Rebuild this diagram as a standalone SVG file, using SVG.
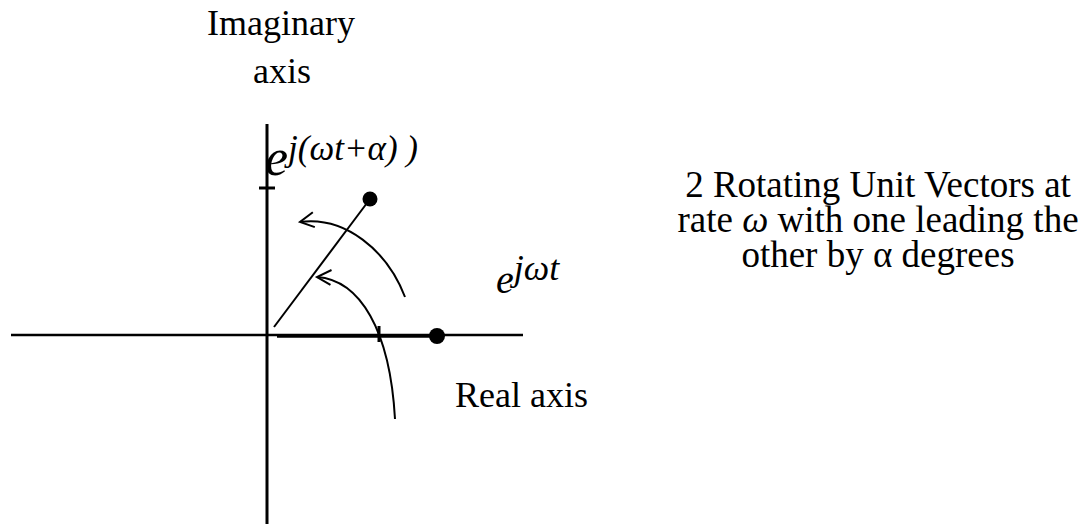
<svg xmlns="http://www.w3.org/2000/svg" width="1085" height="524" viewBox="0 0 1085 524">
<style>
.t{font-family:"Liberation Serif","Times New Roman",serif;font-size:36px;fill:#000}
.r{font-size:37px}
.i{font-style:italic}
.ln{stroke:#000;fill:none;stroke-linecap:butt}
</style>
<defs>
<marker id="open" viewBox="0 0 20 20" refX="2" refY="10" markerWidth="20" markerHeight="20" markerUnits="userSpaceOnUse" orient="auto">
<path d="M16,2 L2,10 L16,17" fill="none" stroke="#000" stroke-width="2"/>
</marker>
</defs>
<rect width="1085" height="524" fill="#fff"/>
<g id="axes">
<line class="ln" x1="267" y1="124" x2="267" y2="524" stroke-width="3"/>
<line class="ln" x1="11" y1="335" x2="523" y2="335" stroke-width="2.4"/>
<line class="ln" x1="259" y1="188" x2="275" y2="188" stroke-width="3"/>
</g>
<g id="connectors">
<line class="ln" x1="277" y1="336" x2="437" y2="336" stroke-width="3.5"/>
<line class="ln" x1="379" y1="326" x2="379" y2="342" stroke-width="3"/>
<line class="ln" x1="274" y1="327" x2="370" y2="199" stroke-width="2"/>
<path class="ln" d="M300,222 C345,216 387,250 405,297" stroke-width="2" marker-start="url(#open)"/>
<path class="ln" d="M317,277 C360,280 390,330 395,419" stroke-width="2" marker-start="url(#open)"/>
</g>
<g id="dots">
<circle cx="437" cy="336" r="8" fill="#000"/>
<circle cx="370" cy="199" r="7.5" fill="#000"/>
</g>
<g id="labels">
<text class="t" x="281" y="35" text-anchor="middle">Imaginary</text>
<text class="t" x="282" y="83" text-anchor="middle">axis</text>
<text class="t" x="455" y="407">Real axis</text>
<text class="t i" x="265" y="175" style="font-size:52px">e<tspan style="font-size:35px" dy="-15">j(ωt+α) )</tspan></text>
<text class="t i" x="496" y="293" style="font-size:40px">e<tspan style="font-size:36px" dy="-13">jωt</tspan></text>
<text class="t r" x="878" y="197" text-anchor="middle">2 Rotating Unit Vectors at</text>
<text class="t r" x="878" y="232" text-anchor="middle">rate <tspan class="i">ω</tspan> with one leading the</text>
<text class="t r" x="878" y="267" text-anchor="middle">other by α degrees</text>
</g>
</svg>
